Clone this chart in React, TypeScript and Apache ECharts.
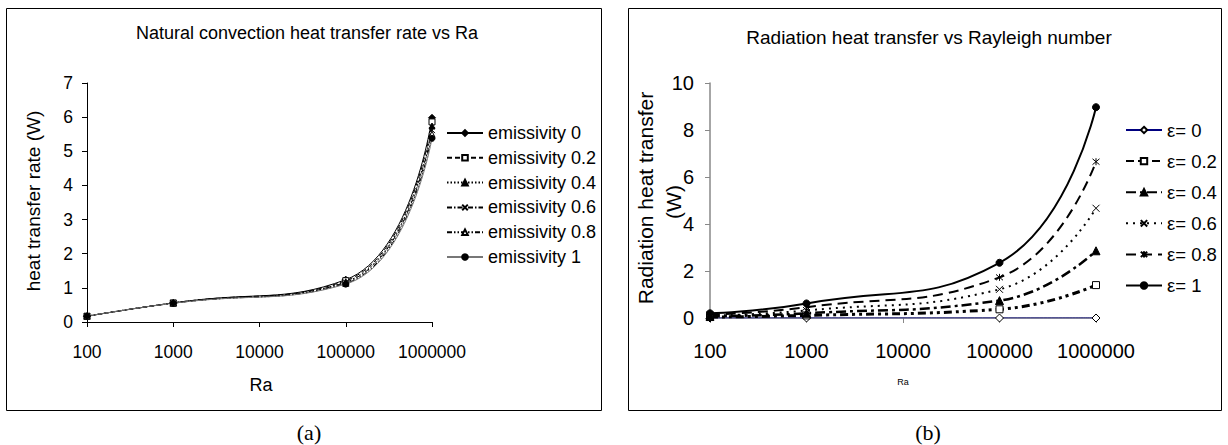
import React, { useEffect, useRef } from "react";
import * as echarts from "echarts";

// ---------- data ----------
const raTicks = [100, 1000, 10000, 100000, 1000000];
const raPoints = [100, 1000, 100000, 1000000];

const convNames = [
  "emissivity 0",
  "emissivity 0.2",
  "emissivity 0.4",
  "emissivity 0.6",
  "emissivity 0.8",
  "emissivity 1",
];
const conv0 = [0.17, 0.56, 1.24, 5.98];
const conv02 = [0.17, 0.56, 1.21, 5.86];
const conv04 = [0.17, 0.56, 1.18, 5.74];
const conv06 = [0.17, 0.55, 1.16, 5.62];
const conv08 = [0.17, 0.55, 1.13, 5.5];
const conv1 = [0.17, 0.55, 1.11, 5.38];

const radNames = ["ε= 0", "ε= 0.2", "ε= 0.4", "ε= 0.6", "ε= 0.8", "ε= 1"];
const rad0 = [0, 0, 0, 0];
const rad02 = [0.04, 0.11, 0.37, 1.4];
const rad04 = [0.07, 0.2, 0.74, 2.86];
const rad06 = [0.1, 0.32, 1.22, 4.67];
const rad08 = [0.15, 0.46, 1.73, 6.65];
const rad1 = [0.2, 0.62, 2.35, 8.97];

const convYTicks = { min: 0, max: 7, interval: 1 };
const radYTicks = { min: 0, max: 10, interval: 2 };

// ---------- helpers ----------
const FONT = "Liberation Sans, Arial, Helvetica, sans-serif";
const SERIF = "Liberation Serif, Times New Roman, serif";
const X_PATH = "path://M0,0L10,10M10,0L0,10";
const STAR_PATH = "path://M0,0L10,10M10,0L0,10M5,-1L5,11";

const pts = (vals: number[]) => raPoints.map((x, i) => [x, vals[i]]);

function mkSeries(
  name: string,
  vals: number[],
  idx: number,
  o: {
    symbol: string;
    size: number;
    fill: string;
    line: string;
    width: number;
    dash: any;
  }
) {
  return {
    type: "line",
    name,
    xAxisIndex: idx,
    yAxisIndex: idx,
    data: pts(vals),
    smooth: 0.5,
    symbol: o.symbol,
    symbolSize: o.size,
    showAllSymbol: true,
    itemStyle: { color: o.fill, borderColor: "#000", borderWidth: 1, opacity: 1 },
    lineStyle: { color: o.line, width: o.width, type: o.dash },
    emphasis: { disabled: true },
    z: 3,
  };
}

const tickFmt = (v: number) => String(Math.round(v));

export default function App() {
  const ref = useRef<HTMLDivElement>(null);

  useEffect(() => {
    if (!ref.current) return;
    const chart = echarts.init(ref.current, undefined, { renderer: "svg" });

    const xAxisBase = (gridIndex: number, color: string, fs: number, margin: number) => ({
      type: "log",
      logBase: 10,
      gridIndex,
      min: raTicks[0],
      max: raTicks[raTicks.length - 1],
      axisLine: { show: true, lineStyle: { color, width: gridIndex === 0 ? 1 : 1.5 } },
      axisTick: { show: true, length: 5, lineStyle: { color } },
      minorTick: { show: false },
      splitLine: { show: false },
      axisLabel: {
        formatter: tickFmt,
        color: "#000",
        fontSize: fs,
        fontFamily: FONT,
        margin,
      },
    });

    const yAxisBase = (gridIndex: number, t: any, color: string, fs: number, margin: number) => ({
      type: "value",
      gridIndex,
      min: t.min,
      max: t.max,
      interval: t.interval,
      axisLine: { show: true, lineStyle: { color, width: gridIndex === 0 ? 1 : 1.5 } },
      axisTick: { show: true, length: 5, lineStyle: { color } },
      splitLine: { show: false },
      axisLabel: { color: "#000", fontSize: fs, fontFamily: FONT, margin },
    });

    const convStyles = [
      { symbol: "diamond", size: 7, fill: "#000", line: "#000", width: 1, dash: "solid" },
      { symbol: "rect", size: 6, fill: "#fff", line: "#000", width: 1, dash: [5, 3] },
      { symbol: "triangle", size: 6, fill: "#000", line: "#000", width: 1, dash: [1.5, 2] },
      { symbol: X_PATH, size: 6, fill: "#000", line: "#000", width: 1, dash: [5, 2, 1.5, 2] },
      { symbol: "triangle", size: 6, fill: "#fff", line: "#000", width: 1, dash: [5, 2, 1.5, 2, 1.5, 2] },
      { symbol: "circle", size: 6, fill: "#000", line: "#777", width: 1, dash: "solid" },
    ];
    const convData = [conv0, conv02, conv04, conv06, conv08, conv1];

    const radStyles = [
      { symbol: "diamond", size: 8, fill: "#fff", line: "#000080", width: 1, dash: "solid" },
      { symbol: "rect", size: 7, fill: "#fff", line: "#000", width: 3, dash: [8, 4, 3, 4, 3, 4] },
      { symbol: "triangle", size: 8, fill: "#000", line: "#000", width: 2.5, dash: [10, 4, 3, 4] },
      { symbol: X_PATH, size: 7, fill: "#000", line: "#000", width: 2, dash: [2, 5] },
      { symbol: STAR_PATH, size: 7, fill: "#000", line: "#000", width: 2, dash: [10, 6] },
      { symbol: "circle", size: 7, fill: "#000", line: "#000", width: 2, dash: "solid" },
    ];
    const radData = [rad0, rad02, rad04, rad06, rad08, rad1];

    const series: any[] = [];
    convNames.forEach((n, i) => series.push(mkSeries(n, convData[i], 0, convStyles[i])));
    radNames.forEach((n, i) => series.push(mkSeries(n, radData[i], 1, radStyles[i])));

    const txt = (text: string, x: number, y: number, size: number, extra: any = {}) => ({
      type: "text",
      x,
      y,
      silent: true,
      ...extra,
      style: {
        text,
        fill: "#000",
        fontSize: size,
        fontFamily: extra.fontFamily || FONT,
        textAlign: "center",
        textVerticalAlign: "middle",
        align: "center",
        verticalAlign: "middle",
      },
    });

    chart.setOption({
      animation: false,
      backgroundColor: "#fff",
      grid: [
        { left: 87, top: 83, width: 345, height: 239, containLabel: false },
        { left: 710, top: 83, width: 386, height: 235, containLabel: false },
      ],
      xAxis: [xAxisBase(0, "#000", 17.5, 21), xAxisBase(1, "#888", 20, 23)],
      yAxis: [
        yAxisBase(0, convYTicks, "#000", 17.5, 14),
        yAxisBase(1, radYTicks, "#888", 20, 16),
      ],
      legend: [
        {
          data: convNames,
          orient: "vertical",
          left: 446,
          top: 123,
          padding: 0,
          itemWidth: 36,
          itemHeight: 7,
          itemGap: 4.8,
          selectedMode: false,
          textStyle: { fontSize: 18, fontFamily: FONT, color: "#000", lineHeight: 20 },
        },
        {
          data: radNames,
          orient: "vertical",
          left: 1125,
          top: 119,
          padding: 0,
          itemWidth: 36,
          itemHeight: 8,
          itemGap: 9.1,
          selectedMode: false,
          textStyle: { fontSize: 18.5, fontFamily: FONT, color: "#000", lineHeight: 22 },
        },
      ],
      series,
      graphic: [
        {
          type: "rect",
          shape: { x: 6.5, y: 8.5, width: 595, height: 402 },
          style: { fill: "none", stroke: "#000", lineWidth: 1 },
          silent: true,
        },
        {
          type: "rect",
          shape: { x: 628.5, y: 8.5, width: 593, height: 402 },
          style: { fill: "none", stroke: "#000", lineWidth: 1 },
          silent: true,
        },
        txt("Natural convection heat transfer rate vs Ra", 307, 33, 18),
        txt("heat transfer rate (W)", 33, 201, 19, { rotation: Math.PI / 2 }),
        txt("Ra", 261, 385, 18),
        txt("Radiation heat transfer vs Rayleigh number", 929, 37, 19),
        txt("Radiation heat transfer", 645, 198, 21, { rotation: Math.PI / 2 }),
        txt("(W)", 673, 202, 21, { rotation: Math.PI / 2 }),
        txt("Ra", 903, 382, 9),
        txt("(a)", 309, 432, 22, { fontFamily: SERIF }),
        txt("(b)", 928, 432, 22, { fontFamily: SERIF }),
      ],
    });

    return () => chart.dispose();
  }, []);

  return (
    <div
      ref={ref}
      style={{ position: "fixed", left: 0, top: 0, width: 1228, height: 445, background: "#fff" }}
    />
  );
}
